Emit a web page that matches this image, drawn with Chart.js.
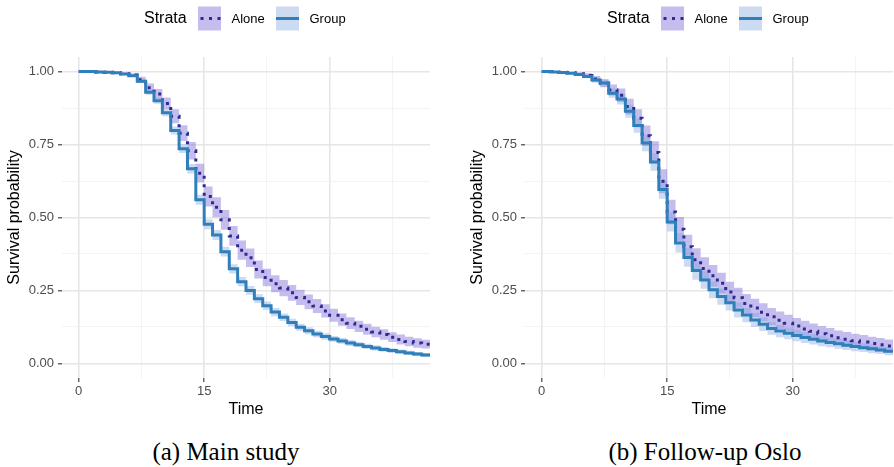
<!DOCTYPE html>
<html>
<head>
<meta charset="utf-8">
<title>Survival curves by strata</title>
<script src="https://cdn.jsdelivr.net/npm/chart.js@4"></script>
<style>
  html, body { margin: 0; padding: 0; background: #fff; }
  body { width: 894px; height: 467px; overflow: hidden; position: relative; }
  canvas { position: absolute; top: 0; }
  #mainChart { left: 0; }
  #osloChart { left: 463px; }
  .caption {
    position: absolute; top: 439px; width: 300px; text-align: center;
    font-family: "Liberation Serif", "DejaVu Serif", serif; font-size: 25px; line-height: 25px; color: #000;
  }
</style>
</head>
<body>
<canvas id="mainChart" width="447" height="420"></canvas>
<canvas id="osloChart" width="447" height="420"></canvas>
<div class="caption" style="left:76px">(a) Main study</div>
<div class="caption" style="left:555px">(b) Follow-up Oslo</div>

<script>
// Data

const times = [0, 1, 2, 3, 4, 5, 6, 7, 8, 9, 10, 11, 12, 13, 14, 15, 16, 17, 18, 19, 20,
    21, 22, 23, 24, 25, 26, 27, 28, 29, 30, 31, 32, 33, 34, 35, 36, 37, 38, 39, 40, 41, 42];

const strata = ['Alone', 'Group'];

// (a) Main study
const mainAlone = [1.000, 1.000, 0.999, 0.998, 0.996, 0.993, 0.988, 0.972, 0.945, 0.923, 0.891,
    0.847, 0.789, 0.729, 0.652, 0.572, 0.535, 0.492, 0.437, 0.388, 0.362, 0.322, 0.294, 0.273,
    0.258, 0.242, 0.226, 0.211, 0.197, 0.180, 0.165, 0.150, 0.138, 0.127, 0.117, 0.108, 0.099,
    0.090, 0.082, 0.075, 0.070, 0.066, 0.063];
const mainAloneCI = [0, 0, 0.001, 0.002, 0.003, 0.004, 0.006, 0.010, 0.014, 0.017, 0.020, 0.024,
    0.027, 0.030, 0.032, 0.034, 0.034, 0.034, 0.034, 0.033, 0.032, 0.031, 0.030, 0.029, 0.028,
    0.027, 0.026, 0.025, 0.024, 0.023, 0.022, 0.021, 0.020, 0.019, 0.019, 0.018, 0.018, 0.017,
    0.017, 0.016, 0.016, 0.015, 0.015];
const mainGroup = [1.000, 1.000, 0.999, 0.998, 0.996, 0.992, 0.986, 0.967, 0.929, 0.900, 0.859,
    0.798, 0.736, 0.667, 0.561, 0.477, 0.440, 0.383, 0.324, 0.280, 0.250, 0.222, 0.198, 0.176,
    0.158, 0.140, 0.124, 0.112, 0.101, 0.092, 0.084, 0.077, 0.070, 0.064, 0.058, 0.053, 0.048,
    0.044, 0.040, 0.036, 0.032, 0.029, 0.027];
const mainGroupCI = [0, 0, 0.001, 0.001, 0.002, 0.003, 0.004, 0.006, 0.008, 0.010, 0.012, 0.014,
    0.015, 0.016, 0.017, 0.017, 0.017, 0.017, 0.016, 0.016, 0.015, 0.015, 0.014, 0.014, 0.013,
    0.013, 0.012, 0.012, 0.011, 0.011, 0.010, 0.010, 0.010, 0.009, 0.009, 0.009, 0.008, 0.008,
    0.008, 0.007, 0.007, 0.007, 0.007];

// (b) Follow-up Oslo
const osloAlone = [1.000, 1.000, 0.998, 0.996, 0.993, 0.987, 0.975, 0.960, 0.937, 0.919, 0.880,
    0.840, 0.780, 0.723, 0.624, 0.519, 0.460, 0.400, 0.355, 0.325, 0.300, 0.275, 0.245, 0.225,
    0.205, 0.190, 0.175, 0.160, 0.148, 0.138, 0.128, 0.118, 0.110, 0.102, 0.095, 0.088, 0.083,
    0.078, 0.073, 0.068, 0.064, 0.060, 0.057];
const osloAloneCI = [0, 0, 0.002, 0.003, 0.005, 0.007, 0.010, 0.014, 0.019, 0.023, 0.027, 0.031,
    0.035, 0.038, 0.041, 0.042, 0.042, 0.041, 0.040, 0.039, 0.037, 0.036, 0.035, 0.034, 0.033,
    0.032, 0.031, 0.030, 0.030, 0.029, 0.028, 0.028, 0.027, 0.026, 0.026, 0.025, 0.025, 0.024,
    0.024, 0.023, 0.023, 0.022, 0.022];
const osloGroup = [1.000, 0.999, 0.997, 0.994, 0.990, 0.983, 0.971, 0.961, 0.926, 0.906, 0.864,
    0.815, 0.755, 0.690, 0.596, 0.485, 0.413, 0.363, 0.318, 0.286, 0.252, 0.229, 0.208, 0.183,
    0.166, 0.149, 0.134, 0.120, 0.111, 0.103, 0.096, 0.089, 0.083, 0.077, 0.072, 0.067, 0.062,
    0.058, 0.054, 0.050, 0.046, 0.042, 0.039];
const osloGroupCI = [0, 0.001, 0.002, 0.003, 0.004, 0.006, 0.009, 0.012, 0.016, 0.019, 0.022,
    0.025, 0.028, 0.030, 0.032, 0.033, 0.033, 0.032, 0.031, 0.030, 0.029, 0.028, 0.027, 0.026,
    0.025, 0.024, 0.023, 0.022, 0.021, 0.020, 0.020, 0.019, 0.018, 0.018, 0.017, 0.017, 0.016,
    0.016, 0.015, 0.015, 0.014, 0.014, 0.014];

// Axis ticks
const xTicks = [0, 7.5, 15, 22.5, 30, 37.5];
const xLabels = [0, 15, 30];
const yTicks = [0, 0.125, 0.25, 0.375, 0.5, 0.625, 0.75, 0.875, 1];
const yLabels = [0, 0.25, 0.5, 0.75, 1];

// Styles
const FONT = '"Liberation Sans", Arial, Helvetica, sans-serif';
const aloneLine = '#2E2A92';
const aloneBand = 'rgba(110, 90, 210, 0.4)';
const groupLine = '#2F7FBB';
const groupBand = 'rgba(120, 160, 220, 0.38)';

Chart.defaults.font.family = FONT;

// Legend with the "Strata" title on the left
const strataLegend = {
    id: 'strataLegend',
    afterDraw(chart) {
        const ctx = chart.ctx;
        ctx.save();
        ctx.textBaseline = 'middle';
        ctx.fillStyle = '#000';
        ctx.font = '16px ' + FONT;
        ctx.fillText('Strata', 144, 19);

        ctx.fillStyle = aloneBand;
        ctx.fillRect(198, 6.5, 23, 24);
        ctx.strokeStyle = aloneLine;
        ctx.lineWidth = 3;
        ctx.setLineDash([3, 5.5]);
        ctx.beginPath();
        ctx.moveTo(200.5, 18.5);
        ctx.lineTo(221, 18.5);
        ctx.stroke();

        ctx.fillStyle = groupBand;
        ctx.fillRect(276, 6.5, 23, 24);
        ctx.strokeStyle = groupLine;
        ctx.setLineDash([]);
        ctx.beginPath();
        ctx.moveTo(276, 18.5);
        ctx.lineTo(299, 18.5);
        ctx.stroke();

        ctx.fillStyle = '#000';
        ctx.font = '13px ' + FONT;
        ctx.fillText(strata[0], 231.5, 19);
        ctx.fillText(strata[1], 309.5, 19);
        ctx.restore();
    }
};

function toPoints(vals, ci, sign) {
    return times.map((t, i) => ({ x: t, y: vals[i] + sign * ci[i] }));
}

function isMajor(list) {
    return c => c.tick && list.includes(c.tick.value);
}

function axisGrid(list) {
    const major = isMajor(list);
    return {
        color: c => major(c) ? '#E6E6E6' : '#F0F0F0',
        lineWidth: c => major(c) ? 1.6 : 0.8,
        tickLength: 4,
        tickWidth: 1.1,
        tickColor: c => major(c) ? '#333333' : 'rgba(0,0,0,0)'
    };
}

function makeChart(canvasId, alone, aloneCI, group, groupCI) {
    const canvas = document.getElementById(canvasId);
    return new Chart(canvas, {
        type: 'line',
        data: {
            datasets: [
                {
                    label: strata[0], data: toPoints(alone, aloneCI, 0), stepped: true,
                    borderColor: aloneLine, borderWidth: 3, borderDash: [3, 5.5], borderCapStyle: 'butt',
                    pointRadius: 0, fill: false, order: 1
                },
                {
                    label: strata[1], data: toPoints(group, groupCI, 0), stepped: true,
                    borderColor: groupLine, borderWidth: 3, pointRadius: 0, fill: false, order: 0
                },
                {
                    label: 'Alone upper', data: toPoints(alone, aloneCI, 1), stepped: true,
                    borderColor: 'transparent', pointRadius: 0, fill: false, order: 5
                },
                {
                    label: 'Alone lower', data: toPoints(alone, aloneCI, -1), stepped: true,
                    borderColor: 'transparent', backgroundColor: aloneBand, pointRadius: 0, fill: '-1', order: 4
                },
                {
                    label: 'Group upper', data: toPoints(group, groupCI, 1), stepped: true,
                    borderColor: 'transparent', pointRadius: 0, fill: false, order: 3
                },
                {
                    label: 'Group lower', data: toPoints(group, groupCI, -1), stepped: true,
                    borderColor: 'transparent', backgroundColor: groupBand, pointRadius: 0, fill: '-1', order: 2
                }
            ]
        },
        options: {
            responsive: false,
            devicePixelRatio: 1,
            animation: false,
            layout: { padding: { top: 57, right: 17, bottom: 0, left: 0 } },
            plugins: { legend: { display: false }, tooltip: { enabled: false } },
            scales: {
                x: {
                    type: 'linear', min: -2, max: 42,
                    afterBuildTicks: s => { s.ticks = xTicks.map(v => ({ value: v })); },
                    afterFit: s => { s.height = 42; },
                    border: { display: false },
                    grid: axisGrid(xLabels),
                    ticks: {
                        autoSkip: false, maxRotation: 0, padding: 2, color: '#4D4D4D',
                        font: { size: 13 },
                        callback: v => xLabels.includes(v) ? String(v) : ''
                    },
                    title: {
                        display: true, text: 'Time', color: '#000',
                        font: { size: 16 }, padding: { top: 0, bottom: 1 }
                    }
                },
                y: {
                    type: 'linear', min: -0.05, max: 1.05,
                    afterBuildTicks: s => { s.ticks = yTicks.map(v => ({ value: v })); },
                    afterFit: s => { s.width = 62; },
                    border: { display: false },
                    grid: axisGrid(yLabels),
                    ticks: {
                        autoSkip: false, padding: 4, color: '#4D4D4D',
                        font: { size: 13 },
                        callback: v => yLabels.includes(v) ? v.toFixed(2) : ''
                    },
                    title: {
                        display: true, text: 'Survival probability', color: '#000',
                        font: { size: 16 }, padding: { top: 5, bottom: 0 }
                    }
                }
            }
        },
        plugins: [strataLegend]
    });
}

makeChart('mainChart', mainAlone, mainAloneCI, mainGroup, mainGroupCI);
makeChart('osloChart', osloAlone, osloAloneCI, osloGroup, osloGroupCI);
</script>
</body>
</html>
